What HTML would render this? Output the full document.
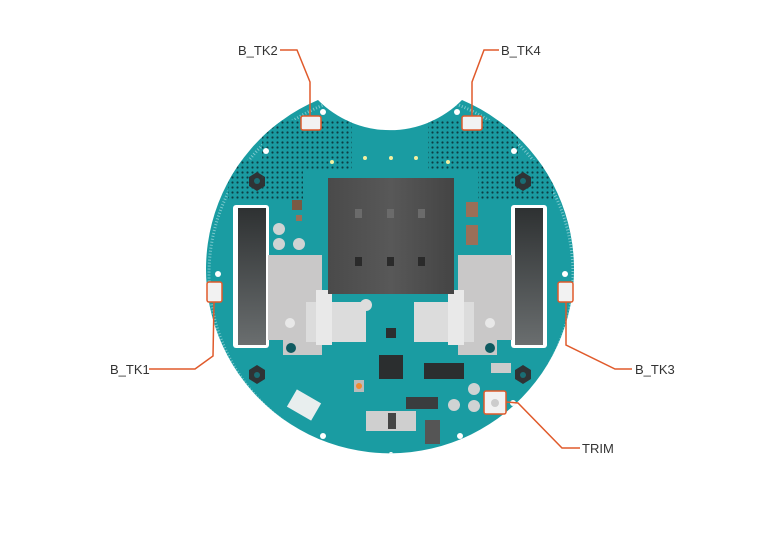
<!DOCTYPE html>
<html><head><meta charset="utf-8"><style>
html,body{margin:0;padding:0;background:#fff;}
svg{display:block;}
text{font-family:"Liberation Sans",sans-serif;font-size:13px;fill:#333;}
</style></head><body>
<svg width="780" height="551" viewBox="0 0 780 551">
<defs>
<clipPath id="board"><path id="bp" d="M318,100 A101,101 0 0 0 462,100 A184,184 0 1 1 318,100 Z"/></clipPath>
<linearGradient id="wheel" x1="0" y1="0" x2="0" y2="1"><stop offset="0" stop-color="#2e3132"/><stop offset="1" stop-color="#6a6e6f"/></linearGradient>
<linearGradient id="chip" x1="0" y1="0" x2="1" y2="0"><stop offset="0" stop-color="#4a4a4a"/><stop offset="0.5" stop-color="#585858"/><stop offset="1" stop-color="#444"/></linearGradient>
<pattern id="dots" width="5" height="5" patternUnits="userSpaceOnUse"><rect width="5" height="5" fill="#1a9ba1"/><circle cx="2.5" cy="2.5" r="1.1" fill="#0c3e44"/></pattern>
</defs>
<!-- board -->
<path d="M318,100 A101,101 0 0 0 462,100 A184,184 0 1 1 318,100 Z" fill="#1a9ca2"/>
<g clip-path="url(#board)">
<circle cx="391" cy="274" r="182" fill="none" stroke="#7cc8cc" stroke-width="3" stroke-dasharray="1 2"/>
<rect x="262" y="120" width="90" height="50" fill="url(#dots)"/>
<rect x="228" y="160" width="75" height="40" fill="url(#dots)"/>
<rect x="428" y="120" width="90" height="50" fill="url(#dots)"/>
<rect x="478" y="160" width="75" height="40" fill="url(#dots)"/>
<!-- hex nuts -->
<g fill="#2f3335"><polygon points="249,177 257,172 265,177 265,186 257,191 249,186"/><polygon points="515,177 523,172 531,177 531,186 523,191 515,186"/><polygon points="249,370 257,365 265,370 265,379 257,384 249,379"/><polygon points="515,370 523,365 531,370 531,379 523,384 515,379"/></g>
<g fill="#1a6d74"><circle cx="257" cy="181" r="3"/><circle cx="523" cy="181" r="3"/><circle cx="257" cy="375" r="3"/><circle cx="523" cy="375" r="3"/></g>
<!-- holes -->
<g fill="#fff"><circle cx="323" cy="112" r="3"/><circle cx="457" cy="112" r="3"/><circle cx="266" cy="151" r="3"/><circle cx="514" cy="151" r="3"/><circle cx="218" cy="274" r="3"/><circle cx="565" cy="274" r="3"/><circle cx="267" cy="431" r="3"/><circle cx="513" cy="403" r="3"/><circle cx="323" cy="436" r="3"/><circle cx="460" cy="436" r="3"/><circle cx="391" cy="454" r="2"/></g>
<!-- wheels -->
<rect x="233" y="205" width="36" height="143" rx="3" fill="#fff"/>
<rect x="238" y="208" width="28" height="137" fill="url(#wheel)"/>
<rect x="511" y="205" width="36" height="143" rx="3" fill="#fff"/>
<rect x="515" y="208" width="28" height="137" fill="url(#wheel)"/>
<!-- motor brackets -->
<path d="M268,255 L322,255 L322,355 L283,355 L283,340 L268,340 Z" fill="#c9c8c8"/>
<path d="M512,255 L458,255 L458,355 L497,355 L497,340 L512,340 Z" fill="#c9c8c8"/>
<rect x="306" y="302" width="60" height="40" fill="#dcdcdc"/>
<rect x="414" y="302" width="60" height="40" fill="#dcdcdc"/>
<rect x="316" y="290" width="16" height="55" fill="#e9e9e9"/>
<rect x="448" y="290" width="16" height="55" fill="#e9e9e9"/>
<circle cx="290" cy="323" r="5" fill="#e8e8e8"/><circle cx="490" cy="323" r="5" fill="#e8e8e8"/>
<circle cx="291" cy="348" r="5" fill="#0f5a60"/><circle cx="490" cy="348" r="5" fill="#0f5a60"/>
<circle cx="366" cy="305" r="6" fill="#ddd"/>
<!-- main chip -->
<rect x="328" y="178" width="126" height="116" fill="url(#chip)"/>
<g fill="#6b6b6b"><rect x="355" y="209" width="7" height="9"/><rect x="387" y="209" width="7" height="9"/><rect x="418" y="209" width="7" height="9"/></g>
<g fill="#2a2a2a"><rect x="355" y="257" width="7" height="9"/><rect x="387" y="257" width="7" height="9"/><rect x="418" y="257" width="7" height="9"/></g>
<!-- misc parts -->
<rect x="292" y="200" width="10" height="10" fill="#7a5a44"/>
<g fill="#cfd3d3"><circle cx="279" cy="229" r="6"/><circle cx="279" cy="244" r="6"/><circle cx="299" cy="244" r="6"/><circle cx="474" cy="389" r="6"/><circle cx="474" cy="406" r="6"/><circle cx="454" cy="405" r="6"/></g>
<g fill="#9a6f58"><rect x="466" y="202" width="12" height="15"/><rect x="466" y="225" width="12" height="20"/><rect x="296" y="215" width="6" height="6"/></g>
<rect x="379" y="355" width="24" height="24" fill="#2b2e2f"/>
<rect x="424" y="363" width="40" height="16" fill="#2b2e2f"/>
<rect x="386" y="328" width="10" height="10" fill="#2b2e2f"/>
<rect x="406" y="397" width="32" height="12" fill="#3a3d3e"/>
<rect x="366" y="411" width="50" height="20" fill="#cfcfcf"/>
<rect x="388" y="413" width="8" height="16" fill="#444"/>
<rect x="425" y="420" width="15" height="24" fill="#555"/>
<rect x="290" y="395" width="28" height="20" fill="#e8eeee" transform="rotate(30 304 405)"/>
<rect x="354" y="380" width="10" height="12" fill="#bbb"/><circle cx="359" cy="386" r="3" fill="#f08a30"/>
<rect x="491" y="363" width="20" height="10" fill="#ccc"/>
<g fill="#f4f0a0"><circle cx="332" cy="162" r="2"/><circle cx="365" cy="158" r="2"/><circle cx="391" cy="158" r="2"/><circle cx="416" cy="158" r="2"/><circle cx="448" cy="162" r="2"/></g>
</g>
<!-- connectors -->
<g fill="#f2f2f2" stroke="#e05a2b" stroke-width="1.5">
<rect x="301" y="116" width="20" height="14" rx="2"/>
<rect x="462" y="116" width="20" height="14" rx="2"/>
<rect x="207" y="282" width="15" height="20" rx="2"/>
<rect x="558" y="282" width="15" height="20" rx="2"/>
<rect x="484" y="391" width="22" height="23" rx="2"/>
</g>
<circle cx="495" cy="403" r="4" fill="#ccc"/>
<!-- leader lines -->
<g fill="none" stroke="#e05a2b" stroke-width="1.5">
<polyline points="280,50 297,50 310,82 310,116"/>
<polyline points="499,50 484,50 472,82 472,116"/>
<polyline points="149,369 195,369 213,356 214,302"/>
<polyline points="632,369 615,369 566,345 566,302"/>
<polyline points="506,402 518,403 562,448 580,448"/>
</g>
<text x="238" y="55">B_TK2</text>
<text x="501" y="55">B_TK4</text>
<text x="110" y="374">B_TK1</text>
<text x="635" y="374">B_TK3</text>
<text x="582" y="453">TRIM</text>
</svg>
</body></html>
